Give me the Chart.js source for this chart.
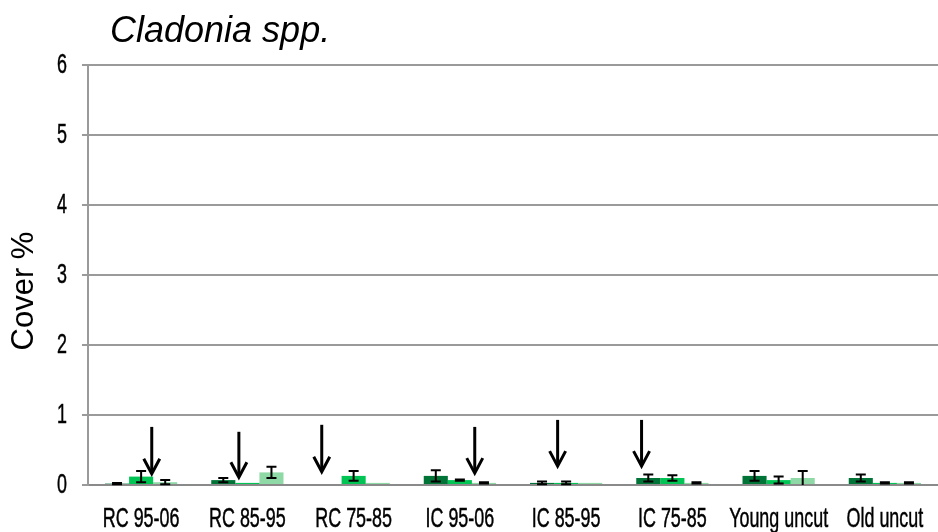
<!DOCTYPE html>
<html><head><meta charset="utf-8">
<script src="https://cdn.jsdelivr.net/npm/chart.js@4/dist/chart.umd.min.js"></script>
<style>html,body{margin:0;padding:0;background:#fff}#wrap{width:938px;height:532px}</style>
</head><body><div id="wrap"><canvas id="c" width="938" height="532"></canvas></div>
<script>
const categories = ["RC 95-06","RC 85-95","RC 75-85","IC 95-06","IC 85-95","IC 75-85","Young uncut","Old uncut"];
const seriesA = [0.02,0.07,0,0.13,0.03,0.10,0.13,0.10];
const errA    = [0.01,0.03,0,0.08,0.02,0.05,0.07,0.05];
const seriesB = [0.12,0.03,0.13,0.07,0.03,0.10,0.07,0.03];
const errB    = [0.08,0.00,0.07,0.01,0.02,0.04,0.05,0.01];
const seriesC = [0.04,0.18,0.03,0.03,0.03,0.03,0.10,0.03];
const errC    = [0.03,0.08,0.00,0.01,0.00,0.01,0.10,0.01];
const yTicks = [0,1,2,3,4,5,6];
// arrows: category index, offset within category (fraction of category width), top value, tip value
const arrowCat    = [0,1,2,3,4,5];
const arrowOffset = [0.10,-0.08,-0.30,0.14,-0.08,-0.29];
const arrowTop    = [0.83,0.76,0.86,0.83,0.93,0.93];
const arrowTip    = [0.16,0.11,0.19,0.17,0.27,0.27];

const errs = [errA, errB, errC];
const SANS = '"Liberation Sans", Arial, sans-serif';
const CONDENSE = 0.64;

function condensedText(ctx, text, x, y, align) {
  ctx.save();
  ctx.translate(x, y);
  ctx.scale(CONDENSE, 1);
  ctx.textAlign = align;
  ctx.lineWidth = 0.5;
  ctx.strokeStyle = '#000';
  ctx.strokeText(text, 0, 0);
  ctx.fillText(text, 0, 0);
  ctx.restore();
}

const extras = {
  id: 'extras',
  afterDatasetsDraw(chart) {
    const ctx = chart.ctx, y = chart.scales.y, x = chart.scales.x;
    ctx.save();
    ctx.strokeStyle = '#000'; ctx.lineWidth = 2;
    chart.data.datasets.forEach((ds, di) => {
      const meta = chart.getDatasetMeta(di);
      meta.data.forEach((bar, i) => {
        const e = errs[di][i];
        if (!e) return;
        const v = ds.data[i];
        const y1 = y.getPixelForValue(Math.max(0, v - e));
        const y2 = y.getPixelForValue(v + e);
        const bx = bar.x;
        ctx.beginPath();
        ctx.moveTo(bx, y1); ctx.lineTo(bx, y2);
        ctx.moveTo(bx - 5, y2); ctx.lineTo(bx + 5, y2);
        if (v - e > 0) { ctx.moveTo(bx - 5, y1); ctx.lineTo(bx + 5, y1); }
        ctx.stroke();
      });
    });
    const cw = x.width / categories.length;
    ctx.lineWidth = 3; ctx.lineCap = 'butt';
    arrowCat.forEach((c, k) => {
      const ax = x.getPixelForValue(c) + arrowOffset[k] * cw;
      const yt = y.getPixelForValue(arrowTop[k]);
      const yb = y.getPixelForValue(arrowTip[k]);
      ctx.beginPath();
      ctx.moveTo(ax, yt); ctx.lineTo(ax, yb - 1);
      ctx.stroke();
      ctx.beginPath();
      ctx.moveTo(ax - 8, yb - 15); ctx.lineTo(ax, yb); ctx.lineTo(ax + 8, yb - 15);
      ctx.stroke();
    });
    ctx.restore();
  },
  afterDraw(chart) {
    const ctx = chart.ctx, x = chart.scales.x, y = chart.scales.y;
    ctx.save();
    ctx.fillStyle = '#000';
    ctx.font = 'italic 36px ' + SANS;
    ctx.textBaseline = 'alphabetic';
    ctx.textAlign = 'left';
    ctx.fillText('Cladonia spp.', 110, 42);
    ctx.font = '28px ' + SANS;
    ctx.textBaseline = 'alphabetic';
    categories.forEach((lab, i) => {
      condensedText(ctx, lab, x.getPixelForValue(i), 527, 'center');
    });
    ctx.textBaseline = 'middle';
    yTicks.forEach(v => {
      condensedText(ctx, String(v), 67, y.getPixelForValue(v), 'right');
    });
    ctx.save();
    ctx.translate(24, 291);
    ctx.rotate(-Math.PI / 2);
    ctx.font = '31px ' + SANS;
    ctx.textAlign = 'center';
    ctx.textBaseline = 'middle';
    ctx.fillText('Cover %', 0, 0);
    ctx.restore();
    ctx.restore();
  }
};

new Chart(document.getElementById('c'), {
  type: 'bar',
  data: {
    labels: categories,
    datasets: [
      { data: seriesA, backgroundColor: '#007337' },
      { data: seriesB, backgroundColor: '#00C453' },
      { data: seriesC, backgroundColor: '#8FD9A6' }
    ]
  },
  options: {
    responsive: false, animation: false,
    layout: { padding: { top: 65, right: 0, left: 0, bottom: 0 } },
    plugins: { legend: { display: false }, tooltip: { enabled: false }, title: { display: false } },
    datasets: { bar: { categoryPercentage: 0.68, barPercentage: 1.0 } },
    scales: {
      x: {
        grid: { display: false },
        border: { display: true, color: '#8a8a8a', width: 2 },
        ticks: { display: false },
        afterFit(s) { s.height = 47; }
      },
      y: {
        min: 0, max: 6,
        afterBuildTicks(s) { s.ticks = yTicks.map(v => ({ value: v })); },
        grid: { color: '#9a9a9a', lineWidth: 2, tickLength: 6, drawTicks: true },
        border: { display: true, color: '#9a9a9a', width: 2 },
        ticks: { display: false },
        afterFit(s) { s.width = 88; }
      }
    }
  },
  plugins: [extras]
});
</script></body></html>
